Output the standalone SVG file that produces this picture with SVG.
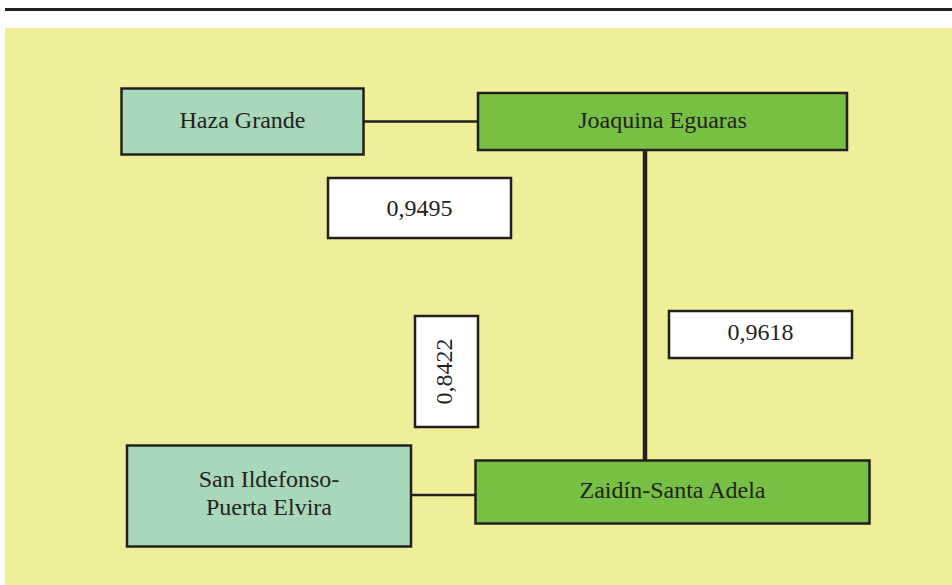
<svg xmlns="http://www.w3.org/2000/svg" width="952" height="585" viewBox="0 0 952 585">
<style>
.box{stroke:#231f20;stroke-width:2.5}
.lt{fill:#a8d8b9}
.dk{fill:#77c043}
.val{fill:#ffffff}
text{font-family:"Liberation Serif","Times New Roman",serif;font-size:24px;fill:#231f20;text-anchor:middle}
.ln{stroke:#231f20;fill:none}
</style>
<rect x="0" y="0" width="952" height="585" fill="#ffffff"/>
<line x1="5" y1="9.5" x2="952" y2="9.5" stroke="#231f20" stroke-width="3"/>
<rect x="5" y="28" width="947" height="557" fill="#efee99"/>
<g id="connectors">
<line class="ln" x1="363" y1="121.5" x2="478" y2="121.5" stroke-width="2.5"/>
<line class="ln" x1="645" y1="150" x2="645" y2="460" stroke-width="4.5"/>
<line class="ln" x1="411" y1="495" x2="475" y2="495" stroke-width="2.5"/>
</g>
<g id="haza">
<rect class="box lt" x="121.5" y="88.5" width="242" height="66"/>
<text x="242.5" y="128">Haza Grande</text>
</g>
<g id="joaquina">
<rect class="box dk" x="478" y="93" width="369" height="57"/>
<text x="662.5" y="128">Joaquina Eguaras</text>
</g>
<g id="v9495">
<rect class="box val" x="328" y="178" width="183" height="60"/>
<text x="419.5" y="216">0,9495</text>
</g>
<g id="v8422">
<rect class="box val" x="415" y="316" width="63" height="111"/>
<text transform="translate(452,371.5) rotate(-90)" x="0" y="0">0,8422</text>
</g>
<g id="v9618">
<rect class="box val" x="669" y="311" width="183" height="47"/>
<text x="760.5" y="340">0,9618</text>
</g>
<g id="sanildefonso">
<rect class="box lt" x="127" y="445.5" width="284" height="101"/>
<text x="269" y="487">San Ildefonso-</text>
<text x="269" y="515">Puerta Elvira</text>
</g>
<g id="zaidin">
<rect class="box dk" x="475.5" y="460.5" width="394" height="63"/>
<text x="672.5" y="498">Zaidín-Santa Adela</text>
</g>
</svg>
